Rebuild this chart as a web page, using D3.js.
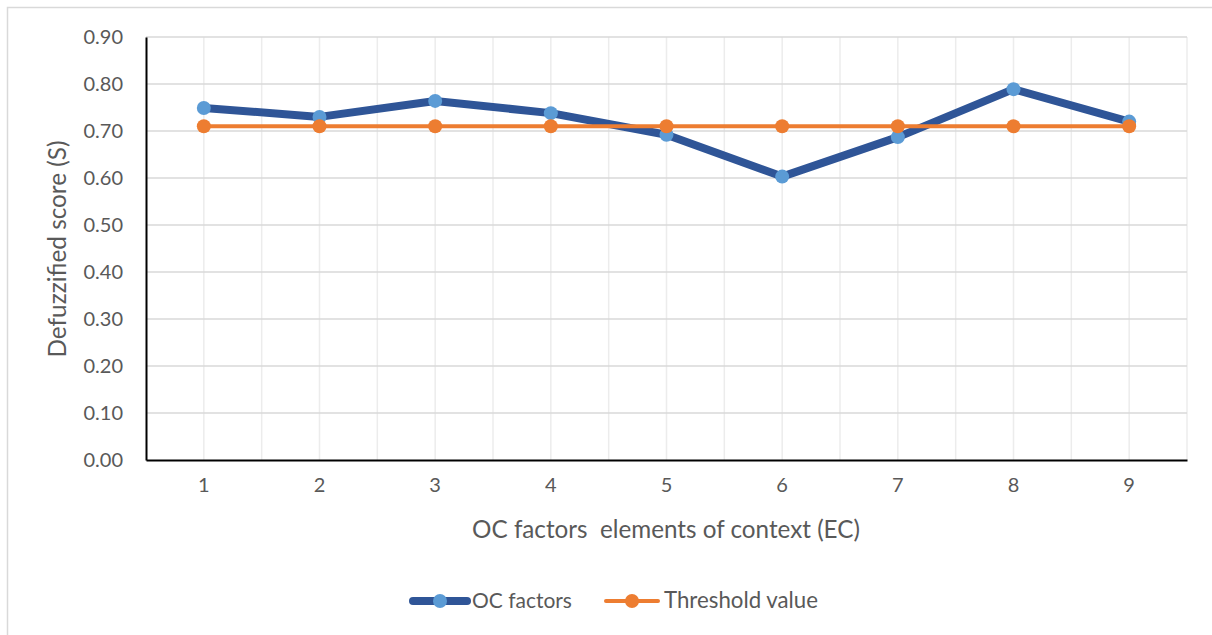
<!DOCTYPE html>
<html>
<head>
<meta charset="utf-8">
<script src="https://cdn.jsdelivr.net/npm/d3@7"></script>
<style>
  body { margin: 0; background: #fff; }
  svg text { font-family: Lato, "Open Sans", sans-serif; fill: #595959; }
</style>
</head>
<body>
<div id="chart"></div>
<script>
// chart data
let categories = ['1', '2', '3', '4', '5', '6', '7', '8', '9'];
let ocFactors = [0.749, 0.730, 0.764, 0.738, 0.692, 0.603, 0.687, 0.789, 0.720];
let threshold = [0.71, 0.71, 0.71, 0.71, 0.71, 0.71, 0.71, 0.71, 0.71];
let yTicks = [0, 0.1, 0.2, 0.3, 0.4, 0.5, 0.6, 0.7, 0.8, 0.9];

let config = {
    svg: {width: 1212, height: 635},
    plot: {x: 146, y: 37, width: 1041, height: 423}
};

let svg = d3.select('#chart')
    .append('svg')
        .attr('width', config.svg.width)
        .attr('height', config.svg.height);

// outer chart border
svg.append('rect')
    .attr('x', 7.5).attr('y', 7.5)
    .attr('width', 1210).attr('height', 640)
    .attr('fill', 'none')
    .attr('stroke', '#d9d9d9')
    .attr('stroke-width', 1.5);

let plot = svg.append('g')
    .attr('transform', `translate(${config.plot.x},${config.plot.y})`);

let x = d3.scaleBand()
    .domain(categories)
    .range([0, config.plot.width]);

let y = d3.scaleLinear()
    .domain([0, 0.9])
    .range([config.plot.height, 0]);

let cx = d => x(d) + x.bandwidth() / 2;

// fit a text element to a target width (Calibri metrics are narrower than the fallback)
function fitWidth(sel, target) {
    let w = sel.node().getComputedTextLength();
    let fs = +sel.attr('font-size');
    sel.attr('font-size', fs * target / w);
}

// vertical gridlines at band edges and centres
let vLines = [];
categories.forEach(c => { vLines.push(x(c) + x.bandwidth() / 2); vLines.push(x(c) + x.bandwidth()); });
plot.append('g')
    .selectAll('line')
    .data(vLines)
    .join('line')
        .attr('x1', d => d).attr('x2', d => d)
        .attr('y1', 0).attr('y2', config.plot.height)
        .attr('stroke', '#ececec')
        .attr('stroke-width', 1.5);

// horizontal gridlines
plot.append('g')
    .selectAll('line')
    .data(yTicks.slice(1))
    .join('line')
        .attr('x1', 0).attr('x2', config.plot.width)
        .attr('y1', d => y(d)).attr('y2', d => y(d))
        .attr('stroke', '#d9d9d9')
        .attr('stroke-width', 1.5);

// axes
let yAxis = g => g
    .call(d3.axisLeft(y).tickValues(yTicks).tickFormat(d3.format('.2f')).tickSize(0).tickPadding(23))
    .call(g => g.select('.domain').attr('stroke', '#000').attr('stroke-width', 2))
    .call(g => g.selectAll('.tick text').attr('font-size', 20).attr('fill', '#595959'));

let xAxis = g => g
    .attr('transform', `translate(0,${config.plot.height})`)
    .call(d3.axisBottom(x).tickSize(0).tickPadding(18))
    .call(g => g.select('.domain').attr('stroke', '#000').attr('stroke-width', 2))
    .call(g => g.selectAll('.tick text').attr('font-size', 20).attr('fill', '#595959'));

plot.append('g').call(xAxis);
plot.append('g').call(yAxis);

// series
let line = d3.line()
    .x((d, i) => cx(categories[i]))
    .y(d => y(d));

let series = [
    {name: 'OC factors', values: ocFactors, line: '#2f5597', width: 8, marker: '#5b9bd5'},
    {name: 'Threshold value', values: threshold, line: '#ed7d31', width: 4, marker: '#ed7d31'}
];

series.forEach(s => {
    plot.append('path')
        .datum(s.values)
        .attr('d', line)
        .attr('fill', 'none')
        .attr('stroke', s.line)
        .attr('stroke-width', s.width)
        .attr('stroke-linejoin', 'round');
    plot.append('g')
        .selectAll('circle')
        .data(s.values)
        .join('circle')
            .attr('cx', (d, i) => cx(categories[i]))
            .attr('cy', d => y(d))
            .attr('r', 7)
            .attr('fill', s.marker);
});

// axis titles
let xTitle = svg.append('text')
    .attr('x', 666).attr('y', 538)
    .attr('text-anchor', 'middle')
    .attr('font-size', 21)
    .attr('xml:space', 'preserve')
    .text('OC factors  elements of context (EC)');
fitWidth(xTitle, 388);

let yTitle = svg.append('text')
    .attr('transform', 'translate(66,249) rotate(-90)')
    .attr('text-anchor', 'middle')
    .attr('font-size', 21)
    .text('Defuzzified score (S)');
fitWidth(yTitle, 217);

// legend
let legend = svg.append('g');
let legendItems = [
    {s: series[0], x0: 413, x1: 467, tx: 472, w: 100},
    {s: series[1], x0: 606, x1: 658, tx: 664, w: 154}
];
legendItems.forEach(l => {
    legend.append('line')
        .attr('x1', l.x0).attr('x2', l.x1)
        .attr('y1', 601).attr('y2', 601)
        .attr('stroke', l.s.line)
        .attr('stroke-width', l.s.width)
        .attr('stroke-linecap', 'round');
    legend.append('circle')
        .attr('cx', (l.x0 + l.x1) / 2).attr('cy', 601)
        .attr('r', 7)
        .attr('fill', l.s.marker);
    let t = legend.append('text')
        .attr('x', l.tx).attr('y', 608)
        .attr('font-size', 20)
        .text(l.s.name);
    fitWidth(t, l.w);
});
</script>
</body>
</html>
